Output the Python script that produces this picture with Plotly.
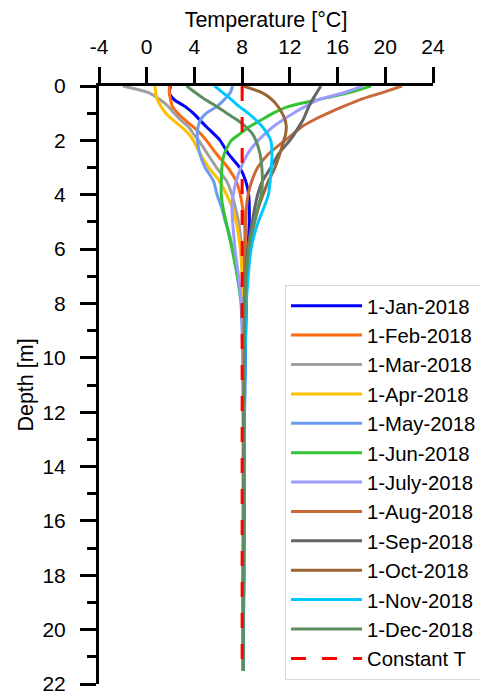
import plotly.graph_objects as go

# Depth below ground surface [m]
depth = [0, 0.25, 0.5, 0.75, 1.0, 1.25, 1.5, 1.75, 2.0, 2.5, 3.0, 3.5, 4.0, 4.5,
         5.0, 5.5, 6.0, 7.0, 8.0, 9.0, 10, 12, 14, 16, 18, 20, 21.5]

# Ground temperature profiles [degC], one per month
t_jan = [2.0, 1.9, 2.3, 3.2, 3.9, 4.45, 5.0, 5.6, 6.15, 6.85, 7.8, 8.3, 8.55, 8.6,
         8.6, 8.55, 8.5, 8.4, 8.35, 8.3, 8.25, 8.2, 8.2, 8.15, 8.15, 8.1, 8.1]
t_feb = [1.9, 1.9, 2.0, 2.15, 2.6, 3.2, 3.9, 4.5, 5.0, 5.85, 6.8, 7.5, 7.85, 8.05,
         8.2, 8.25, 8.3, 8.3, 8.25, 8.2, 8.2, 8.15, 8.15, 8.15, 8.1, 8.1, 8.1]
t_mar = [-2.0, 0.2, 1.1, 1.8, 2.3, 2.85, 3.5, 3.9, 4.35, 5.1, 5.85, 6.7, 7.15, 7.45,
         7.7, 7.85, 7.95, 8.05, 8.1, 8.15, 8.15, 8.15, 8.15, 8.1, 8.1, 8.1, 8.1]
t_apr = [0.7, 0.75, 0.9, 1.2, 1.6, 2.2, 2.9, 3.5, 3.9, 4.5, 5.2, 6.1, 6.7, 7.2,
         7.5, 7.7, 7.85, 8.0, 8.05, 8.1, 8.1, 8.1, 8.1, 8.1, 8.1, 8.1, 8.1]
t_may = [7.2, 7.0, 6.5, 5.9, 5.0, 4.5, 4.3, 4.25, 4.25, 4.45, 4.9, 5.6, 5.9, 6.3,
         6.6, 6.95, 7.2, 7.6, 7.9, 8.0, 8.05, 8.1, 8.1, 8.1, 8.1, 8.1, 8.1]
t_jun = [18.8, 16.9, 14.4, 11.9, 10.6, 9.6, 8.6, 7.85, 7.1, 6.5, 6.3, 6.25, 6.25, 6.4,
         6.65, 6.9, 7.15, 7.6, 7.95, 8.05, 8.1, 8.1, 8.1, 8.1, 8.1, 8.1, 8.1]
t_jul = [18.1, 16.5, 14.4, 13.3, 12.3, 11.4, 10.6, 9.95, 9.35, 8.45, 7.9, 7.5, 7.25, 7.15,
         7.2, 7.3, 7.4, 7.7, 7.95, 8.05, 8.1, 8.1, 8.1, 8.1, 8.1, 8.1, 8.1]
t_aug = [21.4, 19.7, 17.9, 16.5, 15.2, 14.0, 13.0, 12.3, 11.6, 10.2, 9.3, 8.8, 8.5, 8.35,
         8.3, 8.25, 8.2, 8.2, 8.2, 8.15, 8.15, 8.15, 8.15, 8.1, 8.1, 8.1, 8.1]
t_sep = [14.6, 14.25, 13.9, 13.6, 13.35, 13.1, 12.75, 12.4, 12.0, 11.05, 10.4, 9.7, 9.3, 9.05,
         8.85, 8.65, 8.45, 8.3, 8.25, 8.2, 8.2, 8.15, 8.15, 8.15, 8.1, 8.1, 8.1]
t_oct = [8.1, 9.7, 10.5, 11.0, 11.35, 11.6, 11.7, 11.65, 11.5, 11.15, 10.75, 10.2, 9.75, 9.35,
         9.05, 8.8, 8.6, 8.4, 8.3, 8.25, 8.2, 8.2, 8.15, 8.15, 8.1, 8.1, 8.1]
t_nov = [5.7, 6.4, 7.1, 7.75, 8.5, 9.15, 9.7, 10.1, 10.4, 10.5, 10.45, 10.35, 10.2, 9.8,
         9.35, 9.0, 8.75, 8.5, 8.35, 8.3, 8.25, 8.2, 8.2, 8.15, 8.15, 8.1, 8.1]
t_dec = [3.35, 4.1, 4.9, 5.85, 6.7, 7.6, 8.3, 8.85, 9.15, 9.5, 9.65, 9.7, 9.6, 9.3,
         9.0, 8.75, 8.55, 8.35, 8.25, 8.2, 8.2, 8.15, 8.15, 8.15, 8.1, 8.1, 8.1]

# Constant ground temperature assumption
const_depth = [0, 21.5]
const_temp = [8.0, 8.0]

months = ["1-Jan-2018", "1-Feb-2018", "1-Mar-2018", "1-Apr-2018", "1-May-2018",
          "1-Jun-2018", "1-July-2018", "1-Aug-2018", "1-Sep-2018", "1-Oct-2018",
          "1-Nov-2018", "1-Dec-2018"]
profiles = [t_jan, t_feb, t_mar, t_apr, t_may, t_jun, t_jul, t_aug, t_sep, t_oct,
            t_nov, t_dec]
colors = ["#0000FF", "#FF6A10", "#A0A0A0", "#FFC000", "#6C9CF2", "#33C433",
          "#9C9CFF", "#C8693A", "#666666", "#9A6633", "#00C8FF", "#5E8E5E"]

# Temperature axis ticks (plain hyphen for the negative value)
temp_ticks = [-4, 0, 4, 8, 12, 16, 20, 24]
temp_tick_labels = ["-4", "0", "4", "8", "12", "16", "20", "24"]

FONT = "Liberation Sans, Arial, sans-serif"
title_font = dict(family=FONT, size=21.5, color="black")

fig = go.Figure()
for name, temps, col in zip(months, profiles, colors):
    fig.add_trace(go.Scatter(
        x=temps, y=depth, mode="lines", name=name,
        line=dict(color=col, width=3, shape="spline", smoothing=0.6),
    ))

fig.add_trace(go.Scatter(
    x=const_temp, y=const_depth, mode="lines", name="Constant T",
    line=dict(color="#FF0000", width=3, dash="15px,16px"),
))

fig.update_layout(
    width=480, height=694,
    margin=dict(l=99, r=47, t=86, b=10, autoexpand=False),
    paper_bgcolor="white", plot_bgcolor="white",
    font=dict(family=FONT, size=21, color="black"),
    legend=dict(
        x=0.557, y=0.6672, xanchor="left", yanchor="top",
        bordercolor="#D9D9D9", borderwidth=1, bgcolor="white",
        font=dict(size=20.3), tracegroupgap=0, itemwidth=71,
    ),
)

fig.update_xaxes(
    range=[-4, 24], tickvals=temp_ticks, ticktext=temp_tick_labels, side="top",
    showline=True, linewidth=3, linecolor="black",
    ticks="outside", ticklen=16, tickwidth=3, tickcolor="black",
    ticklabelstandoff=5,
    showgrid=False, zeroline=False,
    title=dict(text="Temperature [°C]", standoff=2, font=title_font),
)

fig.update_yaxes(
    range=[22, 0], dtick=2,
    showline=True, linewidth=3, linecolor="black",
    ticks="outside", ticklen=16, tickwidth=3, tickcolor="black",
    ticklabelstandoff=10, ticklabeloverflow="allow",
    minor=dict(dtick=1, ticks="outside", ticklen=9, tickwidth=3,
               tickcolor="black", showgrid=False),
    showgrid=False, zeroline=False,
    title=dict(text="Depth [m]", standoff=3, font=title_font),
)

fig.write_html("out.html")
